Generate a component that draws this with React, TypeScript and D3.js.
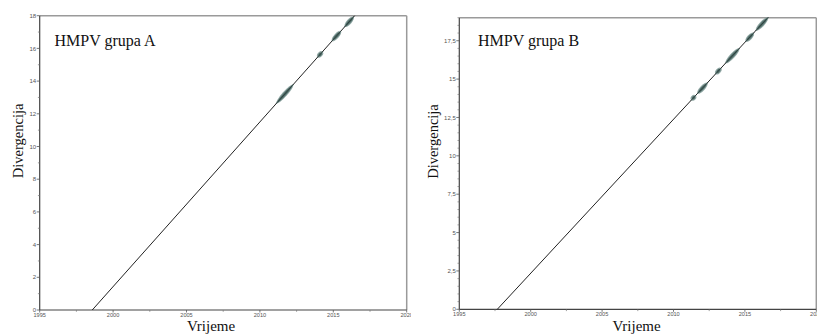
import React from "react";
import * as d3 from "d3";

// Panel A (HMPV grupa A)
const yearDomain = [1995, 2020];
const yearTicks = [1995, 2000, 2005, 2010, 2015, 2020];
const yearMinorTicks = [1997.5, 2002.5, 2007.5, 2012.5, 2017.5];

const divDomainA = [0, 18];
const divTicksA = [0, 2, 4, 6, 8, 10, 12, 14, 16, 18];
const divMinorA = [1, 3, 5, 7, 9, 11, 13, 15, 17];
const lineA = [
  { year: 1998.58, div: 0 },
  { year: 2016.45, div: 18 },
];
// sampled clusters along the line: [startYear, startDiv, endYear, endDiv]
const blobsA = [
  [2011.2, 12.71, 2012.2, 13.72],
  [2014.0, 15.53, 2014.2, 15.73],
  [2014.98, 16.52, 2015.45, 16.99],
  [2015.85, 17.39, 2016.32, 17.87],
];

// Panel B (HMPV grupa B)
const divDomainB = [0, 19];
const divTicksB = [0, 2.5, 5, 7.5, 10, 12.5, 15, 17.5];
const divMinorB = [0.5, 1, 1.5, 2, 3, 3.5, 4, 4.5, 5.5, 6, 6.5, 7, 8, 8.5, 9, 9.5, 10.5, 11, 11.5, 12, 13, 13.5, 14, 14.5, 15.5, 16, 16.5, 17, 18, 18.5, 19];
const lineB = [
  { year: 1997.66, div: 0 },
  { year: 2016.6, div: 19 },
];
const blobsB = [
  [2011.32, 13.7, 2011.48, 13.86],
  [2011.75, 14.13, 2012.3, 14.68],
  [2013.02, 15.41, 2013.26, 15.65],
  [2013.72, 16.11, 2014.54, 16.93],
  [2015.13, 17.52, 2015.55, 17.94],
  [2015.85, 18.24, 2016.55, 18.94],
];

const fmtComma = (v: number) => String(v).replace(".", ",");

type PanelProps = {
  id: string;
  x0: number;
  x1: number;
  yTop: number;
  yBot: number;
  clipRight: number;
  divDomain: number[];
  divTicks: number[];
  divMinor: number[];
  line: { year: number; div: number }[];
  blobs: number[][];
  title: string;
  titleX: number;
  yLabelX: number;
  xLabelX: number;
};

function Panel(p: PanelProps) {
  const x = d3.scaleLinear().domain(yearDomain).range([p.x0, p.x1]);
  const y = d3.scaleLinear().domain(p.divDomain).range([p.yBot, p.yTop]);
  const lineGen = d3
    .line<{ year: number; div: number }>()
    .x((d) => x(d.year))
    .y((d) => y(d.div));
  const tickFont = "Arial, 'Liberation Sans', sans-serif";
  return (
    <g clipPath={`url(#clip-${p.id})`}>
      <defs>
        <clipPath id={`clip-${p.id}`}>
          <rect x={0} y={0} width={p.clipRight} height={336} />
        </clipPath>
      </defs>
      {/* frame: top & right grey */}
      <line x1={p.x0} x2={p.x1} y1={p.yTop} y2={p.yTop} stroke="#9a9a9a" strokeWidth={1.5} />
      <line x1={p.x1} x2={p.x1} y1={p.yTop} y2={p.yBot} stroke="#9a9a9a" strokeWidth={1.5} />
      {/* axes */}
      <line x1={p.x0} x2={p.x0} y1={p.yTop} y2={p.yBot} stroke="#444" strokeWidth={1.2} />
      <line x1={p.x0} x2={p.x1} y1={p.yBot} y2={p.yBot} stroke="#444" strokeWidth={1.2} />
      {p.divTicks.map((t) => (
        <g key={"yt" + t}>
          <line x1={p.x0 - 3} x2={p.x0} y1={y(t)} y2={y(t)} stroke="#555" strokeWidth={0.8} />
          <text
            x={p.x0 - 3.5}
            y={y(t)}
            dy="0.35em"
            textAnchor="end"
            fontSize={6}
            fontFamily={tickFont}
            fill="#555"
          >
            {fmtComma(t)}
          </text>
        </g>
      ))}
      {p.divMinor.map((t) => (
        <line key={"ym" + t} x1={p.x0 - 1.8} x2={p.x0} y1={y(t)} y2={y(t)} stroke="#777" strokeWidth={0.7} />
      ))}
      {yearTicks.map((t) => (
        <g key={"xt" + t}>
          <line x1={x(t)} x2={x(t)} y1={p.yBot} y2={p.yBot + 2.5} stroke="#555" strokeWidth={0.8} />
          <text
            x={x(t)}
            y={p.yBot + 2.6}
            dy="0.71em"
            textAnchor="middle"
            fontSize={5.6}
            fontFamily={tickFont}
            fill="#555"
          >
            {t}
          </text>
        </g>
      ))}
      {yearMinorTicks.map((t) => (
        <line key={"xm" + t} x1={x(t)} x2={x(t)} y1={p.yBot} y2={p.yBot + 1.8} stroke="#777" strokeWidth={0.7} />
      ))}
      {/* regression line */}
      <path d={lineGen(p.line) || ""} fill="none" stroke="#222" strokeWidth={1} />
      {/* sample clusters */}
      {p.blobs.map((b, i) => {
        const xa = x(b[0]);
        const ya = y(b[1]);
        const xb = x(b[2]);
        const yb = y(b[3]);
        const cx = (xa + xb) / 2;
        const cy = (ya + yb) / 2;
        const len = Math.hypot(xb - xa, yb - ya);
        const ang = (Math.atan2(yb - ya, xb - xa) * 180) / Math.PI;
        return (
          <g key={"b" + i} transform={`translate(${cx},${cy}) rotate(${ang})`}>
            <ellipse rx={len / 2 + 1.5} ry={2.5} fill="#7d9894" opacity={0.85} />
            <ellipse rx={len / 2} ry={1.5} fill="#4d6a66" />
            <line x1={-len / 2 - 2} x2={len / 2 + 2} y1={0} y2={0} stroke="#2a3a38" strokeWidth={0.8} />
          </g>
        );
      })}
      {/* texts */}
      <text x={p.titleX} y={46} fontSize={16} fontFamily="'Liberation Serif', 'Times New Roman', serif" fill="#111">
        {p.title}
      </text>
      <text
        transform={`translate(${p.yLabelX},${(p.yTop + p.yBot) / 2 - 22}) rotate(-90)`}
        textAnchor="middle"
        fontSize={14.5}
        fontFamily="'Liberation Serif', 'Times New Roman', serif"
        fill="#111"
      >
        Divergencija
      </text>
      <text
        x={p.xLabelX}
        y={331}
        textAnchor="middle"
        fontSize={15}
        fontFamily="'Liberation Serif', 'Times New Roman', serif"
        fill="#111"
      >
        Vrijeme
      </text>
    </g>
  );
}

export default function App() {
  return (
    <svg
      width={817}
      height={336}
      viewBox="0 0 817 336"
      style={{ position: "absolute", left: 0, top: 0, background: "#fff" }}
    >
      <rect width={817} height={336} fill="#fff" />
      <Panel
        id="A"
        x0={39.7}
        x1={406.7}
        yTop={15.7}
        yBot={310}
        clipRight={411}
        divDomain={divDomainA}
        divTicks={divTicksA}
        divMinor={divMinorA}
        line={lineA}
        blobs={blobsA}
        title="HMPV grupa A"
        titleX={54.5}
        yLabelX={23}
        xLabelX={211}
      />
      <Panel
        id="B"
        x0={459.3}
        x1={816.3}
        yTop={17.7}
        yBot={309.3}
        clipRight={817}
        divDomain={divDomainB}
        divTicks={divTicksB}
        divMinor={divMinorB}
        line={lineB}
        blobs={blobsB}
        title="HMPV grupa B"
        titleX={478}
        yLabelX={438}
        xLabelX={636.5}
      />
    </svg>
  );
}
